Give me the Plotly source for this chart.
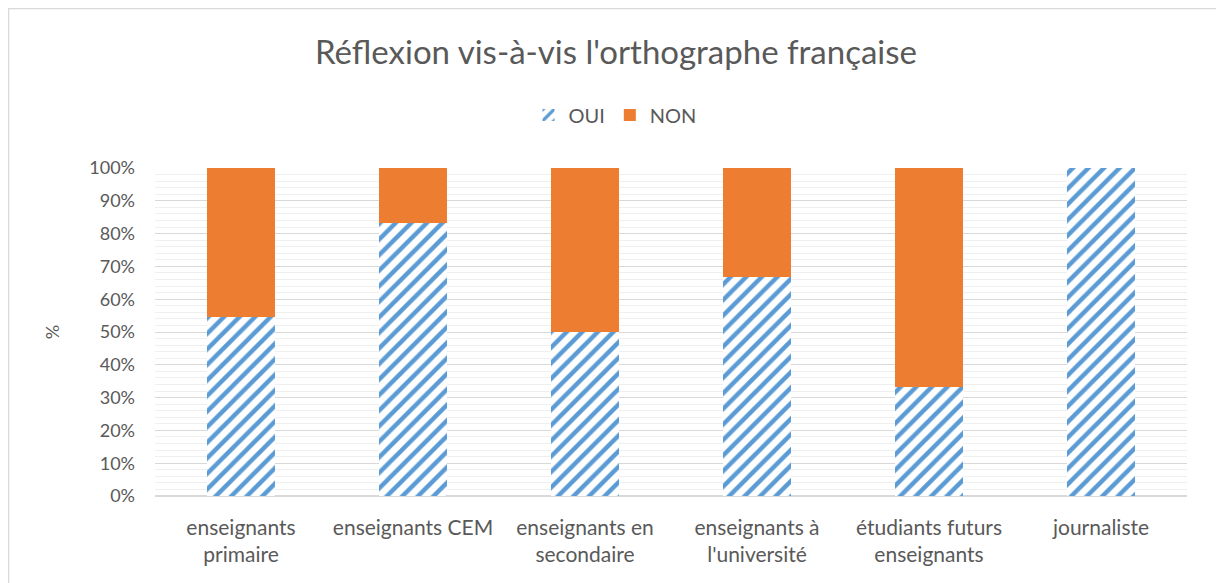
import plotly.graph_objects as go

categories = ["enseignants<br>primaire", "enseignants CEM", "enseignants en<br>secondaire",
              "enseignants à<br>l'université", "étudiants futurs<br>enseignants", "journaliste"]
oui = [0.545, 0.833, 0.50, 0.667, 0.333, 1.0]
non = [0.455, 0.167, 0.50, 0.333, 0.667, 0.0]

# page has an 8px body margin, so figure coordinates = page coordinates - 8
W, H = 1216, 575
ml, mr, mt, mb = 147, 37, 160, 87
pw, ph = W - ml - mr, H - mt - mb

fig = go.Figure()
fig.add_trace(go.Bar(
    x=categories, y=oui, name="OUI",
    marker=dict(color="white", line=dict(width=0),
                pattern=dict(shape="/", fgcolor="#5B9BD5", bgcolor="white",
                             fgopacity=1, size=11, solidity=0.4)),
))
fig.add_trace(go.Bar(
    x=categories, y=non, name="NON",
    marker=dict(color="#ED7D31", line=dict(width=0)),
))

fig.update_layout(
    width=W, height=H,
    barmode="stack", bargap=0.6,
    paper_bgcolor="white", plot_bgcolor="white",
    margin=dict(l=ml, r=mr, t=mt, b=mb, autoexpand=False),
    font=dict(family="Lato, Open Sans, sans-serif", color="#595959", size=18),
    title=dict(text="Réflexion vis-à-vis l'orthographe française", x=0.5, xanchor="center",
               xref="container", y=1 - 44 / H, yanchor="middle",
               font=dict(size=33, color="#595959")),
    legend=dict(orientation="h", x=(607 - ml) / pw, xanchor="center",
                y=1 + (mt - 107) / ph, yanchor="middle",
                font=dict(size=20, color="#595959"), traceorder="normal"),
    showlegend=True,
)
fig.update_yaxes(
    range=[0, 1], tickformat=".0%", dtick=0.1,
    showgrid=True, gridcolor="#D9D9D9", gridwidth=1,
    minor=dict(dtick=0.02, showgrid=True, gridcolor="#EFEFEF", gridwidth=1),
    zeroline=True, zerolinecolor="#D9D9D9", zerolinewidth=1.5,
    tickfont=dict(size=18, color="#595959"),
    ticklabelstandoff=19,
    title=dict(text="%", font=dict(size=18, color="#595959"), standoff=24),
    ticks="", showline=False,
)
fig.update_xaxes(
    showgrid=False, showline=False, ticks="",
    tickfont=dict(size=21, color="#595959"),
    ticklabelstandoff=17, tickangle=0,
)

# outer chart border
fig.add_shape(type="rect", xref="paper", yref="paper",
              x0=(0.5 - ml) / pw, x1=(1210 - ml) / pw,
              y0=-(mb + 20) / ph, y1=1 + (mt - 0.5) / ph,
              line=dict(color="#D9D9D9", width=1.5), layer="below")

fig.write_html("out.html")
